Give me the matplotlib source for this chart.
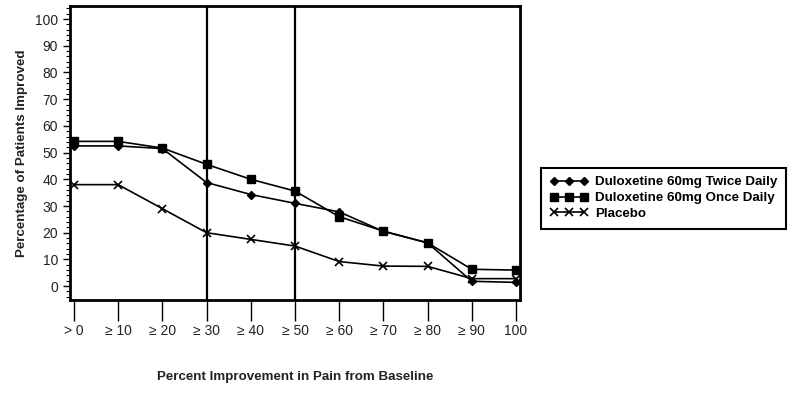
import matplotlib
matplotlib.use("Agg")
import matplotlib.pyplot as plt
from matplotlib.ticker import MultipleLocator

plt.rcParams['font.family'] = ['Liberation Sans', 'DejaVu Sans']

categories = ["> 0", "≥ 10", "≥ 20", "≥ 30", "≥ 40", "≥ 50", "≥ 60", "≥ 70", "≥ 80", "≥ 90", "100"]
twice_daily = [52.5, 52.5, 51.5, 38.8, 34.3, 31, 27.8, 20.5, 16.2, 1.8, 1.4]
once_daily = [54.2, 54.2, 51.7, 45.6, 40, 35.6, 26, 20.6, 16.2, 6.3, 6]
placebo = [38, 38, 29, 20, 17.5, 15, 9.2, 7.5, 7.4, 2.8, 2.8]
cutoffs = [3, 5]  # >=30 and >=50

fig = plt.figure(figsize=(8.01, 3.96), dpi=100)
ax = fig.add_axes([70 / 801, 1 - 300 / 396, 450 / 801, 294 / 396])

x = list(range(len(categories)))
ax.plot(x, twice_daily, color='black', lw=1.2, marker='D', ms=4,
        label='Duloxetine 60mg Twice Daily')
ax.plot(x, once_daily, color='black', lw=1.2, marker='s', ms=6,
        label='Duloxetine 60mg Once Daily')
ax.plot(x, placebo, color='black', lw=1.2, marker='x', ms=6, mew=1.2,
        label='Placebo')

for c in cutoffs:
    ax.axvline(c, color='black', lw=1.6)

ax.set_xlim(-0.09, 10.09)
ax.set_ylim(-5.2, 104.9)
ax.set_xticks(x)
ax.set_xticklabels(categories, fontsize=10, color='#222222')
ax.yaxis.set_major_locator(MultipleLocator(10))
ax.yaxis.set_minor_locator(MultipleLocator(2))
ax.set_yticks(range(0, 101, 10))
ax.tick_params(axis='y', labelsize=10, length=5, width=1, labelcolor='#222222')
ax.tick_params(axis='y', which='minor', length=3, width=0.8)
ax.tick_params(axis='x', length=15, width=1, pad=2)

for s in ax.spines.values():
    s.set_linewidth(2)

ax.set_ylabel('Percentage of Patients Improved', fontsize=9.6, fontweight='bold',
              color='#222222', labelpad=5)
ax.set_xlabel('Percent Improvement in Pain from Baseline', fontsize=9.6,
              fontweight='bold', color='#222222', labelpad=24)

leg = ax.legend(loc='center left', bbox_to_anchor=(541 / 801, 1 - 198 / 396),
                bbox_transform=fig.transFigure, numpoints=3, handlelength=2.9,
                handletextpad=0.5, borderpad=0.65, labelspacing=0.25,
                borderaxespad=0, fancybox=False, edgecolor='black', framealpha=1,
                prop={'weight': 'bold', 'size': 9.6})
leg.get_frame().set_linewidth(1.5)

fig.savefig('out.png', dpi=100)
